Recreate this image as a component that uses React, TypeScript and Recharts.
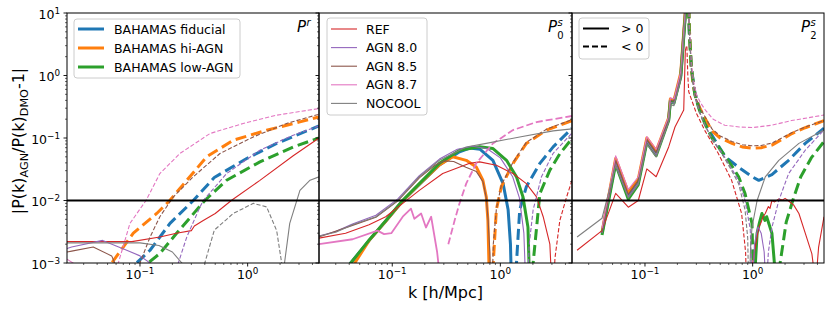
import React from 'react';
import { LineChart, Line, XAxis, YAxis, ReferenceLine } from 'recharts';

type Pair = [number, number];

// ---------- axes ----------
const K_DOMAIN: [number, number] = [0.021, 4.6];
const V_DOMAIN: [number, number] = [0.001, 10];
const X_TICKS = [0.03, 0.04, 0.05, 0.06, 0.07, 0.08, 0.09, 0.1, 0.2, 0.3, 0.4, 0.5, 0.6, 0.7, 0.8, 0.9, 1, 2, 3, 4];
const X_MAJOR = [0.1, 1];
const X_EXP = ['\u22121', '0'];
const Y_TICKS = [
  0.001, 0.002, 0.003, 0.004, 0.005, 0.006, 0.007, 0.008, 0.009,
  0.01, 0.02, 0.03, 0.04, 0.05, 0.06, 0.07, 0.08, 0.09,
  0.1, 0.2, 0.3, 0.4, 0.5, 0.6, 0.7, 0.8, 0.9,
  1, 2, 3, 4, 5, 6, 7, 8, 9, 10,
];
const Y_MAJOR = [0.001, 0.01, 0.1, 1, 10];
const Y_EXP = ['\u22123', '\u22122', '\u22121', '0', '1'];
const THRESHOLD = 0.01;

// ---------- legends ----------
const legendBahamas = ['BAHAMAS fiducial', 'BAHAMAS hi-AGN', 'BAHAMAS low-AGN'];
const legendSims = ['REF', 'AGN 8.0', 'AGN 8.5', 'AGN 8.7', 'NOCOOL'];
const legendSign = ['> 0', '< 0'];

// ---------- panel 1: P^r ----------
const bluePrNeg: Pair[] = [[0.08, 0.0006], [0.093, 0.001], [0.124, 0.0016], [0.19, 0.0043], [0.313, 0.01], [0.49, 0.0233], [0.98, 0.047], [1.86, 0.082], [4.6, 0.156]];
const orangePrNeg: Pair[] = [[0.048, 0.0006], [0.0546, 0.001], [0.0867, 0.003], [0.143, 0.0062], [0.19, 0.0101], [0.272, 0.021], [0.416, 0.05], [0.735, 0.092], [1.5, 0.133], [3.06, 0.181], [4.6, 0.218]];
const greenPrNeg: Pair[] = [[0.11, 0.0006], [0.119, 0.001], [0.153, 0.00142], [0.218, 0.00296], [0.4, 0.01], [0.638, 0.0211], [1.3, 0.0415], [2.65, 0.072], [4.6, 0.1]];
const redPr: Pair[] = [[0.021, 0.0022], [0.084, 0.0022], [0.153, 0.0026], [0.218, 0.003], [0.3, 0.0033], [0.32, 0.0039], [0.387, 0.0048], [0.5, 0.0062], [0.71, 0.0101], [1.3, 0.021], [2.65, 0.052], [4.6, 0.1]];
const purplePrPos: Pair[] = [[0.021, 0.0017], [0.0232, 0.0018], [0.045, 0.0023], [0.0753, 0.0016], [0.1, 0.0013], [0.124, 0.001], [0.13, 0.0007]];
const purplePrNeg: Pair[] = [[0.22, 0.0006], [0.227, 0.001], [0.272, 0.0026], [0.361, 0.0079], [0.387, 0.01], [0.638, 0.027], [1.3, 0.0638], [2.65, 0.111], [4.6, 0.156]];
const brownPrPos: Pair[] = [[0.021, 0.0015], [0.0232, 0.00155], [0.0368, 0.0018], [0.0546, 0.0013], [0.0586, 0.00098], [0.062, 0.0007]];
const brownPrNeg: Pair[] = [[0.095, 0.0006], [0.1, 0.001], [0.124, 0.0026], [0.153, 0.0055], [0.204, 0.0114], [0.313, 0.024], [0.553, 0.0565], [1.127, 0.104], [2.3, 0.171], [4.6, 0.24]];
const pinkPrPos: Pair[] = [[0.021, 0.00115], [0.025, 0.00095], [0.028, 0.0007]];
const pinkPrNeg: Pair[] = [[0.058, 0.0006], [0.0629, 0.001], [0.0807, 0.0043], [0.1137, 0.01], [0.153, 0.027], [0.235, 0.0565], [0.447, 0.118], [0.91, 0.171], [1.86, 0.232], [4.6, 0.296]];
const grayPrPos: Pair[] = [[0.021, 0.0021], [0.1, 0.0021], [0.15, 0.0019], [0.2, 0.0015], [0.245, 0.001], [0.26, 0.0007]];
const grayPrNeg: Pair[] = [[0.38, 0.0006], [0.4, 0.001], [0.49, 0.00335], [0.735, 0.0062], [1.13, 0.009], [1.5, 0.0079], [1.86, 0.0033], [2.07, 0.001], [2.12, 0.0004]];
const grayPrPos2: Pair[] = [[2.14, 0.0004], [2.2, 0.001], [2.46, 0.0043], [3.06, 0.0145], [3.8, 0.0211], [4.6, 0.0239]];

// ---------- panel 2: P0^s ----------
const blueP0Pos: Pair[] = [[0.04, 0.0006], [0.0413, 0.001], [0.0612, 0.0023], [0.0874, 0.0047], [0.1246, 0.0098], [0.178, 0.018], [0.273, 0.037], [0.419, 0.06], [0.52, 0.069], [0.65, 0.066], [0.853, 0.0439], [1.06, 0.0186], [1.18, 0.0071], [1.24, 0.002], [1.27, 0.0004]];
const blueP0Neg: Pair[] = [[1.38, 0.0004], [1.41, 0.001], [1.51, 0.0071], [1.74, 0.0166], [2.32, 0.0393], [3.08, 0.0722], [4.6, 0.143]];
const orangeP0Pos: Pair[] = [[0.042, 0.0006], [0.045, 0.001], [0.0612, 0.0023], [0.0874, 0.0047], [0.1246, 0.0098], [0.178, 0.0182], [0.273, 0.037], [0.363, 0.05], [0.483, 0.0439], [0.598, 0.0345], [0.689, 0.0211], [0.741, 0.0114], [0.767, 0.0048], [0.794, 0.0004]];
const orangeP0Neg: Pair[] = [[0.84, 0.0004], [0.86, 0.001], [0.918, 0.0071], [1.02, 0.0166], [1.31, 0.0393], [1.74, 0.0818], [2.67, 0.134], [4.6, 0.19]];
const greenP0Pos: Pair[] = [[0.039, 0.0006], [0.0413, 0.001], [0.0612, 0.00234], [0.0874, 0.0048], [0.1246, 0.01], [0.178, 0.0186], [0.273, 0.0393], [0.419, 0.0638], [0.643, 0.0722], [0.85, 0.068], [1.14, 0.0439], [1.41, 0.0239], [1.62, 0.0114], [1.8, 0.00375], [1.87, 0.0004]];
const greenP0Neg: Pair[] = [[1.96, 0.0004], [2.01, 0.001], [2.32, 0.0129], [2.87, 0.0306], [3.56, 0.0565], [4.6, 0.098]];
const redP0Pos: Pair[] = [[0.021, 0.0025], [0.037, 0.003], [0.061, 0.0041], [0.087, 0.0055], [0.125, 0.009], [0.178, 0.0145], [0.293, 0.027], [0.52, 0.0393], [0.643, 0.0415], [0.918, 0.0366], [1.31, 0.027], [1.74, 0.0186], [2.16, 0.0114], [2.49, 0.0055], [2.87, 0.002], [3.0, 0.0004]];
const redP0Neg: Pair[] = [[3.1, 0.0004], [3.2, 0.0012], [3.55, 0.0048], [4.1, 0.0114], [4.6, 0.0211]];
const purpleP0Pos: Pair[] = [[0.021, 0.0027], [0.03, 0.0032], [0.0428, 0.0042], [0.0706, 0.0058], [0.112, 0.0105], [0.178, 0.025], [0.273, 0.046], [0.4, 0.066], [0.55, 0.074], [0.75, 0.068], [1.0, 0.048], [1.3, 0.024], [1.5, 0.011], [1.65, 0.003], [1.72, 0.0004]];
const purpleP0Neg: Pair[] = [[1.78, 0.0004], [1.85, 0.002], [2.01, 0.0071], [2.4, 0.024], [3.08, 0.057], [4.6, 0.12]];
const brownP0Pos: Pair[] = [[0.021, 0.0026], [0.0428, 0.004], [0.0706, 0.0054], [0.112, 0.0098], [0.178, 0.023], [0.25, 0.037], [0.3, 0.043], [0.37, 0.042], [0.48, 0.034], [0.6, 0.029], [0.69, 0.02], [0.74, 0.011], [0.77, 0.005], [0.8, 0.0015], [0.815, 0.0004]];
const brownP0Neg: Pair[] = [[0.84, 0.0004], [0.86, 0.002], [0.92, 0.0075], [1.02, 0.0175], [1.31, 0.041], [1.74, 0.085], [2.67, 0.138], [4.6, 0.197]];
const pinkP0Pos: Pair[] = [[0.021, 0.002], [0.043, 0.0024], [0.073, 0.0033], [0.084, 0.0029], [0.098, 0.003], [0.125, 0.0055], [0.149, 0.0074], [0.16, 0.0051], [0.185, 0.0062], [0.205, 0.0037], [0.229, 0.0055], [0.26, 0.0015], [0.283, 0.0004]];
const pinkP0Neg: Pair[] = [[0.33, 0.002], [0.38, 0.005], [0.419, 0.009], [0.483, 0.0186], [0.598, 0.0393], [0.853, 0.0818], [1.31, 0.134], [2.16, 0.18], [4.6, 0.225]];
const grayP0: Pair[] = [[0.021, 0.0027], [0.03, 0.0031], [0.0428, 0.0041], [0.0706, 0.0055], [0.112, 0.01], [0.178, 0.024], [0.273, 0.044], [0.483, 0.072], [0.741, 0.082], [1.51, 0.104], [3.08, 0.13], [4.6, 0.14]];

// ---------- panel 3: P2^s ----------
const blueP2Pos: Pair[] = [[0.0399, 0.003], [0.0534, 0.042], [0.07, 0.012], [0.0867, 0.02], [0.104, 0.092], [0.127, 0.057], [0.166, 0.2], [0.172, 0.4], [0.186, 0.38], [0.215, 1.0], [0.238, 11], [0.245, 40]];
const blueP2Neg: Pair[] = [[0.25, 40], [0.258, 5], [0.27, 1.3], [0.29, 0.55], [0.32, 0.3], [0.36, 0.19], [0.419, 0.11], [0.557, 0.05], [0.741, 0.034], [0.986, 0.024], [1.14, 0.021], [1.51, 0.026], [2.16, 0.044], [3.08, 0.082], [4.6, 0.143]];
const orangeP2Pos: Pair[] = [[0.0399, 0.0031], [0.0534, 0.047], [0.07, 0.0135], [0.0867, 0.022], [0.104, 0.1], [0.127, 0.062], [0.166, 0.21], [0.172, 0.42], [0.186, 0.4], [0.215, 1.1], [0.238, 12], [0.245, 40]];
const orangeP2Neg: Pair[] = [[0.25, 40], [0.258, 6], [0.268, 1.5], [0.28, 0.7], [0.3, 0.4], [0.33, 0.28], [0.36, 0.21], [0.419, 0.13], [0.5, 0.1], [0.643, 0.082], [0.8, 0.072], [0.986, 0.069], [1.2, 0.07], [1.51, 0.077], [2.32, 0.118], [3.08, 0.146], [4.6, 0.19]];
const greenP2Pos: Pair[] = [[0.0399, 0.0028], [0.0534, 0.038], [0.07, 0.0105], [0.0867, 0.018], [0.104, 0.085], [0.127, 0.052], [0.166, 0.19], [0.172, 0.38], [0.186, 0.36], [0.215, 0.95], [0.238, 10], [0.245, 40]];
const greenP2Neg: Pair[] = [[0.25, 40], [0.258, 5], [0.27, 1.3], [0.29, 0.5], [0.32, 0.28], [0.36, 0.17], [0.419, 0.1], [0.52, 0.06], [0.64, 0.036], [0.741, 0.024], [0.85, 0.0129], [0.986, 0.0043], [1.02, 0.0004]];
const greenP2Pos2: Pair[] = [[1.03, 0.0004], [1.1, 0.003], [1.16, 0.0045], [1.22, 0.0062], [1.3, 0.0048], [1.35, 0.0055], [1.51, 0.003], [1.6, 0.0009], [1.62, 0.0004]];
const greenP2Neg2: Pair[] = [[1.75, 0.0004], [1.8, 0.001], [2.05, 0.0045], [2.4, 0.011], [2.8, 0.024], [3.5, 0.048], [4.6, 0.088]];
const redP2Pos: Pair[] = [[0.0234, 0.0016], [0.0399, 0.0033], [0.0534, 0.013], [0.07, 0.0078], [0.0867, 0.01], [0.104, 0.032], [0.127, 0.024], [0.166, 0.072], [0.19, 0.15], [0.229, 0.28], [0.237, 2.5], [0.242, 2.9]];
const redP2Neg: Pair[] = [[0.245, 2.9], [0.25, 1.0], [0.255, 0.55], [0.272, 0.4], [0.3, 0.25], [0.361, 0.13], [0.48, 0.0565], [0.638, 0.021], [0.79, 0.0062], [0.86, 0.0015], [0.88, 0.0004]];
const redP2Pos2: Pair[] = [[0.95, 0.0004], [1.0, 0.001], [1.06, 0.0018], [1.14, 0.0037], [1.2, 0.0045], [1.25, 0.0055], [1.31, 0.0062], [1.4, 0.008], [1.45, 0.0075], [1.51, 0.01], [1.6, 0.0095], [1.75, 0.0106], [1.9, 0.0102], [2.0, 0.0108], [2.16, 0.0098], [2.4, 0.0085], [2.69, 0.0062], [3.08, 0.003], [3.55, 0.0014], [3.7, 0.0008], [3.82, 0.0004], [3.95, 0.0008], [4.1, 0.0018], [4.6, 0.0055]];
const purpleP2Pos: Pair[] = [[0.0399, 0.003], [0.0534, 0.04], [0.07, 0.0115], [0.0867, 0.019], [0.104, 0.088], [0.127, 0.054], [0.166, 0.19], [0.172, 0.37], [0.186, 0.36], [0.215, 0.95], [0.238, 10], [0.245, 40]];
const purpleP2Neg: Pair[] = [[0.25, 40], [0.258, 5], [0.27, 1.25], [0.29, 0.48], [0.32, 0.27], [0.36, 0.165], [0.419, 0.098], [0.52, 0.058], [0.64, 0.032], [0.741, 0.021], [0.85, 0.01], [0.95, 0.0035], [0.99, 0.0004]];
const purpleP2Pos2: Pair[] = [[1.0, 0.0004], [1.04, 0.002], [1.12, 0.0038], [1.2, 0.003], [1.28, 0.0015], [1.33, 0.0004]];
const purpleP2Neg2: Pair[] = [[1.34, 0.0004], [1.4, 0.0015], [1.51, 0.0037], [1.75, 0.01], [2.16, 0.027], [3.08, 0.0638], [4.6, 0.134]];
const brownP2Pos: Pair[] = [[0.0399, 0.0031], [0.0534, 0.044], [0.07, 0.0125], [0.0867, 0.021], [0.104, 0.095], [0.127, 0.059], [0.166, 0.2], [0.172, 0.4], [0.186, 0.39], [0.215, 1.05], [0.238, 11], [0.245, 40]];
const brownP2Neg: Pair[] = [[0.25, 40], [0.258, 6], [0.268, 1.6], [0.28, 0.75], [0.3, 0.42], [0.33, 0.29], [0.36, 0.22], [0.419, 0.14], [0.5, 0.108], [0.643, 0.088], [0.8, 0.078], [0.986, 0.075], [1.2, 0.076], [1.51, 0.083], [2.32, 0.122], [3.08, 0.15], [4.6, 0.19]];
const pinkP2Pos: Pair[] = [[0.0399, 0.0036], [0.0534, 0.052], [0.07, 0.015], [0.0867, 0.024], [0.104, 0.105], [0.127, 0.066], [0.166, 0.22], [0.172, 0.44], [0.186, 0.42], [0.215, 1.15], [0.238, 12], [0.245, 40]];
const pinkP2Neg: Pair[] = [[0.25, 40], [0.258, 7], [0.268, 1.8], [0.28, 0.9], [0.3, 0.5], [0.33, 0.36], [0.364, 0.28], [0.43, 0.2], [0.55, 0.16], [0.75, 0.15], [1.0, 0.147], [1.5, 0.16], [2.3, 0.19], [4.6, 0.233]];
const grayP2Pos: Pair[] = [[0.0234, 0.0026], [0.0399, 0.0052], [0.0534, 0.036], [0.07, 0.011], [0.0867, 0.018], [0.104, 0.08], [0.127, 0.05], [0.166, 0.18], [0.172, 0.34], [0.186, 0.33], [0.215, 0.85], [0.238, 9], [0.245, 40]];
const grayP2Neg: Pair[] = [[0.25, 40], [0.258, 5], [0.27, 1.2], [0.29, 0.45], [0.32, 0.26], [0.36, 0.16], [0.419, 0.095], [0.52, 0.055], [0.64, 0.03], [0.741, 0.0186], [0.85, 0.0071], [0.9, 0.0025], [0.918, 0.0004]];
const grayP2Pos2: Pair[] = [[0.93, 0.0004], [0.96, 0.002], [0.986, 0.0037], [1.1, 0.01], [1.31, 0.0239], [1.75, 0.0439], [2.69, 0.082], [4.6, 0.134]];

// ---------- styling ----------
const COL = {
  blue: '#1f77b4', orange: '#ff7f0e', green: '#2ca02c', red: '#d62728',
  purple: '#9467bd', brown: '#8c564b', pink: '#e377c2', gray: '#7f7f7f',
};
const THICK = 3;
const THIN = 1.1;
const THICK_DASH = '11 5';
const THIN_DASH = '4.2 2';
const FONT = 'DejaVu Sans';

type S = { d: Pair[]; c: string; w: number; dash?: string };
const thk = (d: Pair[], c: string, neg = false): S => ({ d, c, w: THICK, dash: neg ? THICK_DASH : undefined });
const thn = (d: Pair[], c: string, neg = false): S => ({ d, c, w: THIN, dash: neg ? THIN_DASH : undefined });

const panel1: S[] = [
  thk(bluePrNeg, COL.blue, true), thk(orangePrNeg, COL.orange, true), thk(greenPrNeg, COL.green, true),
  thn(redPr, COL.red), thn(purplePrPos, COL.purple), thn(purplePrNeg, COL.purple, true),
  thn(brownPrPos, COL.brown), thn(brownPrNeg, COL.brown, true), thn(pinkPrPos, COL.pink), thn(pinkPrNeg, COL.pink, true),
  thn(grayPrPos, COL.gray), thn(grayPrNeg, COL.gray, true), thn(grayPrPos2, COL.gray),
];
const panel2: S[] = [
  thk(blueP0Pos, COL.blue), thk(blueP0Neg, COL.blue, true), thk(orangeP0Pos, COL.orange), thk(orangeP0Neg, COL.orange, true),
  thk(greenP0Pos, COL.green), thk(greenP0Neg, COL.green, true),
  thn(redP0Pos, COL.red), thn(redP0Neg, COL.red, true), thn(purpleP0Pos, COL.purple), thn(purpleP0Neg, COL.purple, true),
  thn(brownP0Pos, COL.brown), thn(brownP0Neg, COL.brown, true),
  { d: pinkP0Pos, c: COL.pink, w: 1.8 }, { d: pinkP0Neg, c: COL.pink, w: 1.8, dash: '7 3' },
  thn(grayP0, COL.gray),
];
const panel3: S[] = [
  thk(blueP2Pos, COL.blue), thk(blueP2Neg, COL.blue, true), thk(orangeP2Pos, COL.orange), thk(orangeP2Neg, COL.orange, true),
  thk(greenP2Pos, COL.green), thk(greenP2Neg, COL.green, true), thk(greenP2Pos2, COL.green), thk(greenP2Neg2, COL.green, true),
  thn(redP2Pos, COL.red), thn(redP2Neg, COL.red, true), thn(redP2Pos2, COL.red),
  thn(purpleP2Pos, COL.purple), thn(purpleP2Neg, COL.purple, true), thn(purpleP2Pos2, COL.purple), thn(purpleP2Neg2, COL.purple, true),
  thn(brownP2Pos, COL.brown), thn(brownP2Neg, COL.brown, true), thn(pinkP2Pos, COL.pink), thn(pinkP2Neg, COL.pink, true),
  thn(grayP2Pos, COL.gray), thn(grayP2Neg, COL.gray, true), thn(grayP2Pos2, COL.gray),
];

// ---------- ticks ----------
const XTick = (props: any) => {
  const { x, y, payload } = props;
  const idx = X_MAJOR.indexOf(payload.value);
  const major = idx >= 0;
  return (
    <g>
      <line x1={x} x2={x} y1={y} y2={y + (major ? 3.5 : 2)} stroke="#000" strokeWidth={major ? 0.9 : 0.6} />
      {major && (
        <text x={x} y={y + 16} textAnchor="middle" fontFamily={FONT} fontSize={12.5} fill="#000">
          10<tspan dy={-5} fontSize={8.8}>{X_EXP[idx]}</tspan>
        </text>
      )}
    </g>
  );
};
const makeYTick = (labels: boolean) => (props: any) => {
  const { x, y, payload } = props;
  const idx = Y_MAJOR.indexOf(payload.value);
  const major = idx >= 0;
  return (
    <g>
      <line x1={x - (major ? 3.5 : 2)} x2={x} y1={y} y2={y} stroke="#000" strokeWidth={major ? 0.9 : 0.6} />
      {major && labels && (
        <text x={x - 7} y={y + 5.5} textAnchor="end" fontFamily={FONT} fontSize={12.5} fill="#000">
          10<tspan dy={-5} fontSize={8.8}>{Y_EXP[idx]}</tspan>
        </text>
      )}
    </g>
  );
};
const YTickLabeled = makeYTick(true);
const YTickBare = makeYTick(false);

const Panel = ({ left, width, yw, labels, series }: { left: number; width: number; yw: number; labels: boolean; series: S[] }) => (
  <div style={{ position: 'absolute', left, top: 0 }}>
    <LineChart width={width} height={310} margin={{ top: 13, right: 0, bottom: 17, left: 0 }}>
      <XAxis dataKey="k" type="number" scale="log" domain={K_DOMAIN} allowDataOverflow ticks={X_TICKS} interval={0}
        tickSize={0} tickMargin={0} axisLine={false} tickLine={false} tick={XTick} height={30} />
      <YAxis type="number" scale="log" domain={V_DOMAIN} allowDataOverflow ticks={Y_TICKS} interval={0} width={yw}
        tickSize={0} tickMargin={0} axisLine={false} tickLine={false} tick={labels ? YTickLabeled : YTickBare} />
      {series.map((s, i) => (
        <Line key={i} data={s.d.map(([k, v]) => ({ k, v }))} dataKey="v" type="linear" dot={false} activeDot={false}
          stroke={s.c} strokeWidth={s.w} strokeDasharray={s.dash} strokeLinejoin="round" isAnimationActive={false} />
      ))}
      <ReferenceLine y={THRESHOLD} stroke="#000" strokeWidth={1.8} />
    </LineChart>
  </div>
);

const LegendBox = ({ x, y, w, h, rows, items, lineX, textX, styles }: any) => (
  <g>
    <rect x={x} y={y} width={w} height={h} rx={3} fill="#fff" fillOpacity={0.8} stroke="#cccccc" strokeWidth={1} />
    {items.map((t: string, i: number) => (
      <g key={i}>
        <line x1={lineX} x2={lineX + 26} y1={rows[i]} y2={rows[i]} stroke={styles[i].c} strokeWidth={styles[i].w} strokeDasharray={styles[i].dash} />
        <text x={textX} y={rows[i] + 4.5} fontFamily={FONT} fontSize={12.5} fill="#000">{t}</text>
      </g>
    ))}
  </g>
);

const PanelTag = ({ x, sup, sub }: { x: number; sup: string; sub?: string }) => (
  <g fontFamily={FONT}>
    <text x={x} y={32} fontSize={15} fontStyle="italic">P</text>
    <text x={x + 9.6} y={sub ? 25.5 : 26} fontSize={10} fontStyle="italic">{sup}</text>
    {sub && <text x={x + 9.2} y={38.5} fontSize={10}>{sub}</text>}
  </g>
);

export default function App() {
  return (
    <div style={{ position: 'absolute', left: 0, top: 0, width: 831, height: 310, background: '#fff', overflow: 'hidden' }}>
      <Panel left={0} width={319} yw={67} labels series={panel1} />
      <Panel left={311} width={261} yw={8} labels={false} series={panel2} />
      <Panel left={564} width={260} yw={8} labels={false} series={panel3} />
      <svg width={831} height={310} style={{ position: 'absolute', left: 0, top: 0, pointerEvents: 'none' }}>
        <rect x={67} y={13} width={252} height={250} fill="none" stroke="#000" strokeWidth={1} />
        <rect x={319} y={13} width={253} height={250} fill="none" stroke="#000" strokeWidth={1} />
        <rect x={572} y={13} width={252} height={250} fill="none" stroke="#000" strokeWidth={1} />
        <LegendBox x={74} y={19} w={166} h={59} rows={[29, 48, 67]} items={legendBahamas} lineX={78} textX={114}
          styles={[{ c: COL.blue, w: THICK }, { c: COL.orange, w: THICK }, { c: COL.green, w: THICK }]} />
        <LegendBox x={327} y={18} w={100} h={97} rows={[29, 47.6, 66.2, 84.8, 103.4]} items={legendSims} lineX={331} textX={366}
          styles={[{ c: COL.red, w: THIN }, { c: COL.purple, w: THIN }, { c: COL.brown, w: THIN }, { c: COL.pink, w: THIN }, { c: COL.gray, w: THIN }]} />
        <LegendBox x={579} y={18} w={70} h={41} rows={[28.5, 46.5]} items={legendSign} lineX={583} textX={621}
          styles={[{ c: '#000', w: 2 }, { c: '#000', w: 2, dash: '6 3' }]} />
        <PanelTag x={297} sup="r" />
        <PanelTag x={548} sup="s" sub="0" />
        <PanelTag x={801} sup="s" sub="2" />
        <text x={445.5} y={298} textAnchor="middle" fontFamily={FONT} fontSize={16}>k [h/Mpc]</text>
        <text transform="translate(24,141) rotate(-90)" textAnchor="middle" fontFamily={FONT} fontSize={16}>
          |P(k)<tspan dy={3.5} fontSize={11.2}>AGN</tspan><tspan dy={-3.5}>/P(k)</tspan><tspan dy={3.5} fontSize={11.2}>DMO</tspan><tspan dy={-3.5}>-1|</tspan>
        </text>
      </svg>
    </div>
  );
}
